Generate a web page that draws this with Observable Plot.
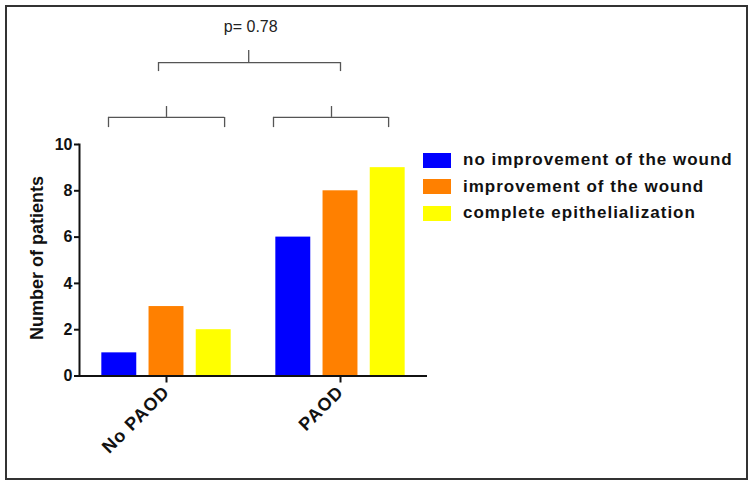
<!DOCTYPE html>
<html>
<head>
<meta charset="utf-8">
<script src="https://cdn.jsdelivr.net/npm/d3@7"></script>
<script src="https://cdn.jsdelivr.net/npm/@observablehq/plot@0.6"></script>
<style>
  html, body { margin: 0; padding: 0; background: #fff; }
  #wrap { position: relative; width: 754px; height: 485px; font-family: "Liberation Sans", Arial, sans-serif; }
  #border { position: absolute; left: 5px; top: 5px; width: 743px; height: 475px; box-sizing: border-box; border: 2px solid #333; }
  #chart { position: absolute; left: 0; top: 0; }
  #legend { position: absolute; left: 423px; top: 147px; }
  .row { display: flex; align-items: center; height: 26.5px; }
  .sw { width: 28px; height: 15px; margin-right: 12px; }
  .lab { font-size: 17px; font-weight: bold; letter-spacing: 1px; color: #111; white-space: nowrap; }
  svg g[aria-label="fx-axis tick label"] text { letter-spacing: 1px; }
  svg g[aria-label="p-value"] text { letter-spacing: 1.3px; }
  svg g[aria-label="y-label"] text { letter-spacing: 0.2px; }
</style>
</head>
<body>
<div id="wrap">
  <div id="border"></div>
  <div id="chart"></div>
  <div id="legend"></div>
</div>
<script>
// ---- data ----
const groups = ["No PAOD", "PAOD"];
const series = ["no improvement of the wound", "improvement of the wound", "complete epithelialization"];
const colors = ["#0000ff", "#ff8000", "#ffff00"];
const noPaodValues = [1, 3, 2];
const paodValues = [6, 8, 9];
const yTicks = [0, 2, 4, 6, 8, 10];
const yLabel = "Number of patients";
const pValueText = "p= 0.78";

const data = [];
groups.forEach((g, gi) => {
  const vals = gi === 0 ? noPaodValues : paodValues;
  series.forEach((s, si) => data.push({group: g, series: s, value: vals[si]}));
});

// bracket anchors (per group), drawn with the x/fx band scales
const g1 = [{group: groups[0], a: series[0], b: series[1], c: series[2]}];
const g2 = [{group: groups[1], a: series[0], b: series[1], c: series[2]}];

// annotation heights in y-data units (above the 0–10 axis)
const lowY = 11.17, lowEnd = 10.73, lowNotch = 11.64;
const topY = 13.54, topEnd = 13.15, topNotch = 14.06;
const pY = 15.1;

const brk = {stroke: "#555", strokeWidth: 1.3};
const v = (d, key, y1, y2, dx) => Plot.ruleX(d, {fx: "group", x: key, y1: () => y1, y2: () => y2, dx, ...brk});

const chart = Plot.plot({
  width: 754,
  height: 485,
  marginLeft: 79,
  marginRight: 327,
  marginTop: 144,
  marginBottom: 109.5,
  style: {fontFamily: "Liberation Sans, Arial, sans-serif", background: "transparent", overflow: "visible", color: "#111"},
  fx: {domain: groups, padding: 0, label: null},
  x: {domain: series, paddingInner: 0.26, paddingOuter: 0.473, axis: null, round: false},
  y: {domain: [0, 10], axis: null},
  color: {domain: series, range: colors},
  marks: [
    Plot.barY(data, {fx: "group", x: "series", y: "value", fill: "series"}),
    Plot.ruleY([0], {stroke: "#111", strokeWidth: 2}),
    Plot.frame({anchor: "left", facetAnchor: "left", stroke: "#111", strokeWidth: 2}),
    Plot.axisY({ticks: yTicks, tickSize: 5, tickPadding: 2, fontSize: 16, fontWeight: "bold", label: null, strokeWidth: 2}),
    Plot.text([{group: groups[0], t: yLabel}], {fx: "group", text: "t", frameAnchor: "left", y: () => 5.1, textAnchor: "middle", rotate: -90, dx: -42, fontSize: 18, fontWeight: "bold", ariaLabel: "y-label"}),
    Plot.axisFx({anchor: "bottom", tickRotate: -45, tickSize: 7, tickPadding: 6, fontSize: 18, fontWeight: "bold", label: null, strokeWidth: 2}),
    // lower bracket, group 1
    Plot.ruleY(g1, {fx: "group", x1: "a", x2: "c", y: () => lowY, insetLeft: 6.7, insetRight: 6.6, ...brk}),
    v(g1, "a", lowY, lowEnd, -10.8),
    v(g1, "c", lowY, lowEnd, 10.9),
    v(g1, "b", lowY, lowNotch, 0),
    // lower bracket, group 2
    Plot.ruleY(g2, {fx: "group", x1: "a", x2: "c", y: () => lowY, insetLeft: -2.3, insetRight: 16.6, ...brk}),
    v(g2, "a", lowY, lowEnd, -19.8),
    v(g2, "c", lowY, lowEnd, 0.9),
    v(g2, "b", lowY, lowNotch, -9),
    // top bracket spanning both groups
    Plot.ruleY(g1, {fx: "group", x1: "b", x2: "c", y: () => topY, insetLeft: 9.5, insetRight: -109.4, ...brk}),
    v(g1, "b", topY, topEnd, -8),
    v(g2, "b", topY, topEnd, 0),
    v(g1, "c", topY, topNotch, 35),
    Plot.text([{group: groups[0], c: series[2], t: pValueText}], {fx: "group", x: "c", y: () => pY, text: "t", dx: 37, fontSize: 16, ariaLabel: "p-value", fill: "#222"})
  ]
});
document.getElementById("chart").appendChild(chart);

// legend
const legend = document.getElementById("legend");
series.forEach((s, i) => {
  const row = document.createElement("div");
  row.className = "row";
  const sw = document.createElement("div");
  sw.className = "sw";
  sw.style.background = colors[i];
  const lab = document.createElement("div");
  lab.className = "lab";
  lab.textContent = s;
  row.appendChild(sw);
  row.appendChild(lab);
  legend.appendChild(row);
});
</script>
</body>
</html>
